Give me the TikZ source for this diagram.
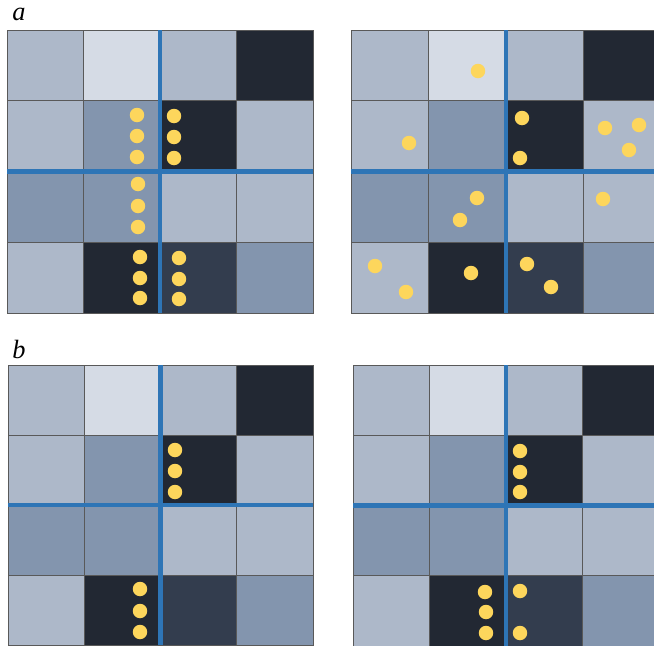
\documentclass[tikz,border=0pt]{standalone}
\usepackage{fontspec}
\setmainfont{Liberation Serif}
\definecolor{cL}{HTML}{ADB8C9}
\definecolor{cVL}{HTML}{D5DBE5}
\definecolor{cM}{HTML}{8395AE}
\definecolor{cD}{HTML}{222833}
\definecolor{cDM}{HTML}{333D4E}
\definecolor{sepblue}{HTML}{2E75B6}
\definecolor{dotyellow}{HTML}{FDD65C}

% 4x4 grid between corners (x0,y0) and (x1,y1), with the quadrant lines
\newcommand{\cellgrid}[4]{%
  \foreach \row [count=\j from 0] in {{L,VL,L,D},{L,M,D,L},{M,M,L,L},{L,D,DM,M}} {
    \foreach \c [count=\i from 0] in \row
      \filldraw[cell, fill=c\c] ({#1+\i*(#3-#1)/4},{#2+\j*(#4-#2)/4}) rectangle ++({(#3-#1)/4},{(#4-#2)/4});
  }
  \draw[sep] ({(#1+#3)/2},#2) -- ({(#1+#3)/2},#4);
  \draw[sep] (#1,{(#2+#4)/2}) -- (#3,{(#2+#4)/2});
}

\begin{document}
\begin{tikzpicture}[
  x=0.02cm, y=-0.02cm,
  cell/.style={draw=black!65, line width=0.5pt},
  sep/.style={draw=sepblue, line width=2.3pt},
  dot/.style={fill=dotyellow},
  lbl/.style={font=\fontsize{15}{17}\selectfont\itshape, anchor=base west, inner sep=0pt}
]
  \useasboundingbox (0,0) rectangle (654,646);
  \clip (0,0) rectangle (654,646);

  \node[lbl] (la) at (12,20) {a};
  \node[lbl] (lb) at (12,358) {b};

  \cellgrid{7}{30}{313}{313}
  \cellgrid{351}{30}{661}{313}
  \cellgrid{8}{365}{313}{645}
  \cellgrid{353}{365}{659}{646}

  % a, left
  \foreach \x/\y in {137/115, 137/136, 137/157, 174/116, 174/137, 174/158,
                     138/184, 138/206, 138/227, 140/257, 140/278, 140/298,
                     179/258, 179/279, 179/299}
    \fill[dot] (\x,\y) circle[radius=0.145cm];
  % a, right
  \foreach \x/\y in {478/71, 409/143, 522/118, 520/158, 605/128, 639/125,
                     629/150, 477/198, 460/220, 603/199, 375/266, 406/292,
                     471/273, 527/264, 551/287}
    \fill[dot] (\x,\y) circle[radius=0.145cm];
  % b, left
  \foreach \x/\y in {175/450, 175/471, 175/492, 140/589, 140/611, 140/632}
    \fill[dot] (\x,\y) circle[radius=0.145cm];
  % b, right
  \foreach \x/\y in {520/451, 520/472, 520/492, 485/592, 486/612, 486/633,
                     520/591, 520/633}
    \fill[dot] (\x,\y) circle[radius=0.145cm];
\end{tikzpicture}
\end{document}
